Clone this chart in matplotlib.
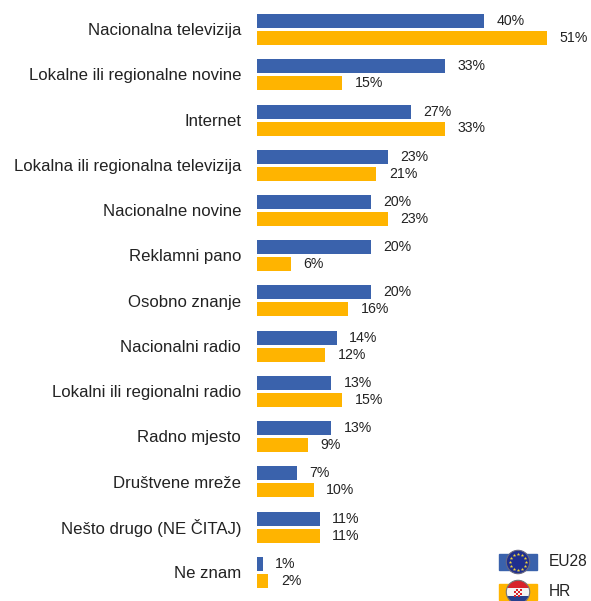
import numpy as np
import matplotlib
matplotlib.use('Agg')
import matplotlib.pyplot as plt
from matplotlib.patches import Circle, Rectangle

categories = ['Nacionalna televizija', 'Lokalne ili regionalne novine', 'Internet',
              'Lokalna ili regionalna televizija', 'Nacionalne novine', 'Reklamni pano',
              'Osobno znanje', 'Nacionalni radio', 'Lokalni ili regionalni radio',
              'Radno mjesto', 'Društvene mreže', 'Nešto drugo (NE ČITAJ)', 'Ne znam']
eu28 = [40, 33, 27, 23, 20, 20, 20, 14, 13, 13, 7, 11, 1]
hr = [51, 15, 33, 21, 23, 6, 16, 12, 15, 9, 10, 11, 2]
legend_labels = ['EU28', 'HR']
colors = ['#3A62AC', '#FFB400']

W, H = 591, 601
plt.rcParams['font.family'] = ['Liberation Sans', 'DejaVu Sans']
fig = plt.figure(figsize=(W/100, H/100), dpi=100)
ax = fig.add_axes([0, 0, 1, 1])
px_per = (547-257)/51
ax.set_xlim(-257/px_per, (W-257)/px_per)
row_h = (572.5-29.5)/12
ax.set_ylim((H-29.5)/row_h, -29.5/row_h)
ax.axis('off')
bh = 14/row_h
off = 8.5/row_h
for i, (cat, a, b) in enumerate(zip(categories, eu28, hr)):
    ax.barh(i-off, a, height=bh, color=colors[0])
    ax.barh(i+off, b, height=bh, color=colors[1])
    ax.text(a+2.2, i-off, f'{a}%', va='center', ha='left', fontsize=10.2, color='#222222')
    ax.text(b+2.2, i+off, f'{b}%', va='center', ha='left', fontsize=10.2, color='#222222')
    ax.annotate(cat, (0, i), xytext=(-11.5, -0.8), textcoords='offset points',
                va='center', ha='right', fontsize=12.1, color='#222222')

# legend, drawn in pixel coordinates
for lab, c, yc, yt in zip(legend_labels, colors, [562, 592], [561, 592]):
    fig.add_artist(Rectangle((499/W, 1-(yc+8)/H), 38/W, 16/H, color=c,
                             transform=fig.transFigure, zorder=1))
    fig.text(549/W, 1-yt/H, lab, va='center', ha='left', fontsize=11.2, color='#222222')

# EU flag badge
a1 = fig.add_axes([(518-13)/W, 1-(562+13)/H, 26/W, 26/H], zorder=5)
a1.axis('off'); a1.set_xlim(-1, 1); a1.set_ylim(-1, 1); a1.set_aspect('equal')
a1.add_patch(Circle((0, 0), 0.9, fc='#1F2F8F', ec='#6A6A80', lw=0.8))
t = np.arange(12)*np.pi/6
a1.scatter(0.6*np.cos(t), 0.6*np.sin(t), marker='*', s=7, c='#F2D43A', linewidths=0)

# Croatian flag badge
a2 = fig.add_axes([(518-13)/W, 1-(592+13)/H, 26/W, 26/H], zorder=5)
a2.axis('off'); a2.set_xlim(-1, 1); a2.set_ylim(-1, 1); a2.set_aspect('equal')
clip = Circle((0, 0), 0.9, transform=a2.transData)
for y0, h, fc in [(0.3, 0.7, '#D8232A'), (-0.3, 0.6, '#F4F4F4'), (-1, 0.7, '#27408F')]:
    a2.add_patch(Rectangle((-1, y0), 2, h, fc=fc, ec='none', clip_path=clip))
for ix in range(4):
    for iy in range(4):
        if (ix+iy) % 2 == 0:
            a2.add_patch(Rectangle((-0.32+ix*0.16, -0.42+iy*0.16), 0.16, 0.16, fc='#D8232A', ec='none'))
a2.add_patch(Circle((0, 0), 0.9, fc='none', ec='#777777', lw=0.8))
fig.savefig('out.png', dpi=100)
